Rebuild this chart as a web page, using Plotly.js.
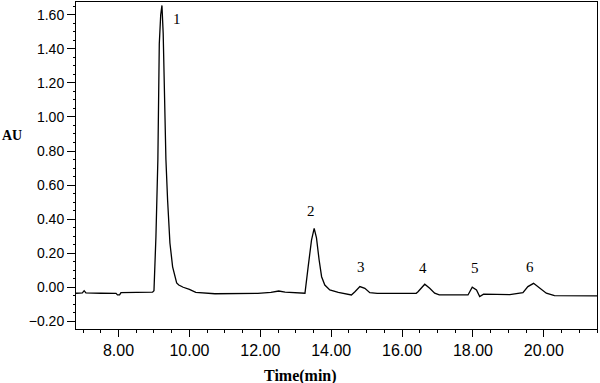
<!DOCTYPE html>
<html>
<head>
<meta charset="utf-8">
<script src="https://cdn.plot.ly/plotly-3.0.1.min.js"></script>
<style>html,body{margin:0;padding:0;background:#fff;}#chart{width:600px;height:383px;}</style>
</head>
<body>
<div id="chart"></div>
<script>
// Retention time (min)
const time = [6.80, 6.98, 7.03, 7.08, 7.5, 7.93, 7.97, 8.03, 8.07, 8.5, 8.96, 9.0, 9.055, 9.11, 9.15, 9.19, 9.225, 9.26, 9.30, 9.337, 9.385, 9.45, 9.526, 9.64, 9.70, 9.825, 10.0, 10.18, 10.72, 11.5, 11.93, 12.3, 12.52, 12.7, 13.1, 13.26, 13.35, 13.445, 13.52, 13.585, 13.66, 13.73, 13.82, 13.96, 14.2, 14.43, 14.57, 14.67, 14.81, 14.95, 15.09, 15.3, 16.0, 16.4, 16.45, 16.64, 16.78, 16.92, 17.05, 17.5, 17.86, 17.91, 17.98, 18.1, 18.19, 18.3, 19.04, 19.41, 19.55, 19.71, 19.88, 20.07, 20.3, 21.5];
// Absorbance (AU)
const absorbance = [-0.035, -0.033, -0.02, -0.033, -0.035, -0.036, -0.045, -0.045, -0.031, -0.030, -0.029, -0.02, 0.295, 0.75, 1.43, 1.6, 1.655, 1.49, 1.10, 0.75, 0.51, 0.26, 0.12, 0.025, 0.013, 0.0, -0.012, -0.03, -0.038, -0.038, -0.036, -0.030, -0.022, -0.028, -0.035, -0.035, 0.12, 0.277, 0.346, 0.29, 0.16, 0.062, 0.013, -0.016, -0.03, -0.04, -0.045, -0.026, 0.004, -0.006, -0.032, -0.036, -0.036, -0.035, -0.026, 0.018, -0.006, -0.035, -0.045, -0.046, -0.045, -0.026, 0.0, -0.016, -0.055, -0.04, -0.043, -0.032, 0.004, 0.023, -0.006, -0.035, -0.049, -0.05];

// Peak labels
const peakLabels = ["1", "2", "3", "4", "5", "6"];
const peakLabelX = [9.65, 13.43, 14.84, 16.58, 18.05, 19.6];
const peakLabelY = [1.574, 0.447, 0.119, 0.113, 0.113, 0.119];

const xTitle = "Time(min)";
const yTitle = "AU";

const trace = {
  x: time, y: absorbance, type: 'scatter', mode: 'lines',
  line: {color: '#000', width: 1.3, shape: 'linear'},
  hoverinfo: 'skip'
};

const annotations = peakLabels.map((t, i) => ({
  x: peakLabelX[i], y: peakLabelY[i], xref: 'x', yref: 'y', text: t, showarrow: false,
  xanchor: 'center', yanchor: 'middle',
  font: {family: 'Liberation Serif, Times New Roman, serif', size: 15, color: '#000'}
}));
annotations.push({
  x: (300 - 76) / 521, y: (329 - 376) / 327, xref: 'paper', yref: 'paper', text: '<b>' + xTitle + '</b>',
  xanchor: 'center', yanchor: 'middle',
  showarrow: false, font: {family: 'Liberation Serif, Times New Roman, serif', size: 16, color: '#000'}
});
annotations.push({
  x: (12 - 76) / 521, y: (329 - 135) / 327, xref: 'paper', yref: 'paper', text: '<b>' + yTitle + '</b>',
  xanchor: 'center', yanchor: 'middle',
  showarrow: false, font: {family: 'Liberation Serif, Times New Roman, serif', size: 14, color: '#000'}
});

const layout = {
  width: 600, height: 383,
  margin: {l: 76, r: 3, t: 2, b: 54, pad: 0},
  paper_bgcolor: '#fff', plot_bgcolor: '#fff',
  showlegend: false,
  xaxis: {
    range: [6.8, 21.5], tick0: 0, dtick: 2, tickformat: '.2f',
    showgrid: false, zeroline: false, showline: true, mirror: true,
    linecolor: '#000', linewidth: 1, ticks: 'outside', ticklen: 7, tickwidth: 1, tickcolor: '#000',
    tickfont: {family: 'Liberation Sans, Arial, sans-serif', size: 16, color: '#000'},
    minor: {dtick: 0.5, tick0: 0, ticks: 'outside', ticklen: 3, tickwidth: 1, tickcolor: '#000', showgrid: false}
  },
  yaxis: {
    range: [-0.245, 1.675], tick0: 0, dtick: 0.2, tickformat: '.2f',
    showgrid: false, zeroline: false, showline: true, mirror: true,
    linecolor: '#000', linewidth: 1, ticks: 'outside', ticklen: 8, tickwidth: 1, tickcolor: '#000',
    tickfont: {family: 'Liberation Sans, Arial, sans-serif', size: 14, color: '#000'},
    minor: {dtick: 0.05, tick0: 0, ticks: 'outside', ticklen: 2, tickwidth: 1, tickcolor: '#000', showgrid: false}
  },
  annotations: annotations
};

Plotly.newPlot('chart', [trace], layout, {staticPlot: true, displayModeBar: false});
</script>
</body>
</html>
